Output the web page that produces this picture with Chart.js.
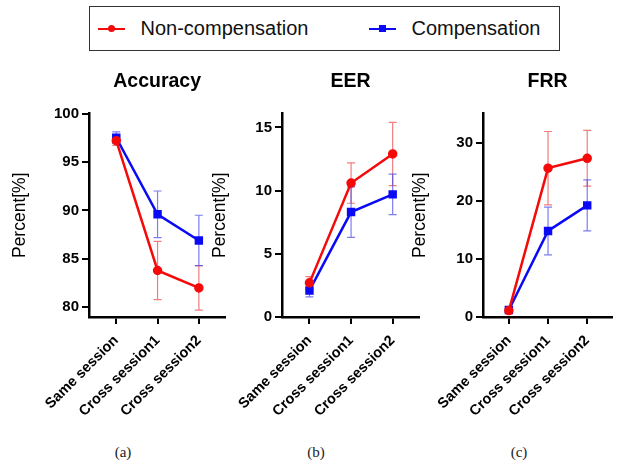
<!DOCTYPE html>
<html>
<head>
<meta charset="utf-8">
<script src="https://cdn.jsdelivr.net/npm/chart.js@4.4.0/dist/chart.umd.min.js"></script>
<style>
  body { margin: 0; width: 619px; height: 466px; background: #fff; position: relative; overflow: hidden; font-family: "Liberation Sans", Arial, sans-serif; }
  canvas { position: absolute; top: 60px; }
  #legend { position: absolute; left: 89px; top: 6px; width: 469px; height: 43px; border: 1.5px solid #333; }
  .item { position: absolute; top: 0; height: 43px; display: flex; align-items: center; font-size: 20px; color: #111; }
  .mark { position: relative; width: 27px; height: 2px; margin-right: 16px; }
  .mark i { position: absolute; left: 10px; top: -2.5px; width: 7px; height: 7px; }
  .sub { position: absolute; top: 444px; width: 40px; text-align: center; font-family: "Liberation Serif", "Times New Roman", serif; font-size: 15px; color: #222; }
</style>
</head>
<body>
<div id="legend"></div>
<canvas id="accChart" width="232" height="380" style="left:0px"></canvas>
<canvas id="eerChart" width="226" height="380" style="left:200px"></canvas>
<canvas id="frrChart" width="219" height="380" style="left:400px"></canvas>
<div class="sub" style="left:103px">(a)</div>
<div class="sub" style="left:296px">(b)</div>
<div class="sub" style="left:499px">(c)</div>
<script>
const categories = ['Same session', 'Cross session1', 'Cross session2'];
const seriesNames = ['Non-compensation', 'Compensation'];

// Accuracy (mean and error)
const accNon = [97.2, 83.8, 82.0];
const accNonErr = [0.5, 3.0, 2.3];
const accComp = [97.5, 89.6, 86.9];
const accCompErr = [0.6, 2.4, 2.6];
const accTicks = [80, 85, 90, 95, 100];

// EER
const eerNon = [2.7, 10.6, 12.9];
const eerNonErr = [0.5, 1.6, 2.5];
const eerComp = [2.1, 8.3, 9.7];
const eerCompErr = [0.5, 2.0, 1.6];
const eerTicks = [0, 5, 10, 15];

// FRR
const frrNon = [1.1, 25.6, 27.3];
const frrNonErr = [0.3, 6.3, 4.8];
const frrComp = [1.2, 14.8, 19.2];
const frrCompErr = [0.3, 4.1, 4.4];
const frrTicks = [0, 10, 20, 30];

const red = 'rgb(245, 10, 10)';
const blue = 'rgb(10, 10, 245)';
const fontFamily = '"Liberation Sans", Arial, sans-serif';

// legend
const legend = document.getElementById('legend');
[[seriesNames[0], red, '50%', 7.5], [seriesNames[1], blue, '0', 278.5]].forEach(([name, color, rad, left]) => {
    const item = document.createElement('div');
    item.className = 'item';
    item.style.left = left + 'px';
    item.innerHTML = '<span class="mark" style="background:' + color + '"><i style="background:' + color +
        ';border-radius:' + rad + '"></i></span>' + name;
    legend.appendChild(item);
});

// error bars drawn under the lines
const errorBars = {
    id: 'errorBars',
    beforeDatasetsDraw(chart) {
        const ctx = chart.ctx;
        const x = chart.scales.x, y = chart.scales.y;
        chart.data.datasets.forEach(ds => {
            ctx.save();
            ctx.strokeStyle = ds.errorColor;
            ctx.lineWidth = 1.2;
            ds.data.forEach((pt, j) => {
                const e = ds.errors[j];
                const px = x.getPixelForValue(pt.x);
                const top = y.getPixelForValue(pt.y + e);
                const bot = y.getPixelForValue(pt.y - e);
                ctx.beginPath();
                ctx.moveTo(px, top); ctx.lineTo(px, bot);
                ctx.moveTo(px - 4, top); ctx.lineTo(px + 4, top);
                ctx.moveTo(px - 4, bot); ctx.lineTo(px + 4, bot);
                ctx.stroke();
            });
            ctx.restore();
        });
    }
};

// panel title centred over the plot area
const panelTitle = {
    id: 'panelTitle',
    afterDraw(chart, args, opts) {
        const { ctx, chartArea } = chart;
        ctx.save();
        ctx.font = 'bold 19.5px ' + fontFamily;
        ctx.fillStyle = '#000';
        ctx.textAlign = 'center';
        ctx.textBaseline = 'middle';
        ctx.fillText(opts.text, (chartArea.left + chartArea.right) / 2, chartArea.top - 32);
        ctx.restore();
    }
};

function toPoints(values) {
    return values.map((v, i) => ({ x: i, y: v }));
}

function makePanel(id, title, non, nonErr, comp, compErr, yMin, yMax, yTicks, yWidth, rightPad) {
    const axisGrid = { drawOnChartArea: false, drawTicks: true, tickLength: 7, color: '#000', lineWidth: 2 };
    const axisBorder = { display: true, color: '#000', width: 2.5 };
    return new Chart(document.getElementById(id), {
        type: 'line',
        data: {
            datasets: [{
                label: seriesNames[0],
                data: toPoints(non),
                errors: nonErr,
                errorColor: 'rgba(235, 70, 70, 0.7)',
                borderColor: red,
                backgroundColor: red,
                borderWidth: 2.5,
                pointStyle: 'circle',
                pointRadius: 3.5,
                tension: 0
            }, {
                label: seriesNames[1],
                data: toPoints(comp),
                errors: compErr,
                errorColor: 'rgba(70, 70, 235, 0.7)',
                borderColor: blue,
                backgroundColor: blue,
                borderWidth: 2.5,
                pointStyle: 'rect',
                pointRadius: 4.2,
                tension: 0
            }]
        },
        options: {
            responsive: false,
            animation: false,
            layout: { padding: { top: 53.5, right: rightPad, left: 0, bottom: 0 } },
            plugins: {
                legend: { display: false },
                tooltip: { enabled: false },
                panelTitle: { text: title }
            },
            scales: {
                x: {
                    type: 'linear',
                    min: -0.66,
                    max: 2.64,
                    afterBuildTicks: s => { s.ticks = categories.map((c, i) => ({ value: i })); },
                    afterFit: s => { s.height = 123; },
                    ticks: {
                        callback: v => categories[v],
                        minRotation: 45,
                        maxRotation: 45,
                        padding: 8,
                        color: '#000',
                        font: { family: fontFamily, size: 14.5, weight: 'bold' }
                    },
                    grid: axisGrid,
                    border: axisBorder
                },
                y: {
                    min: yMin,
                    max: yMax,
                    afterBuildTicks: s => { s.ticks = yTicks.map(v => ({ value: v })); },
                    afterFit: s => { s.width = yWidth; },
                    title: {
                        display: true,
                        text: 'Percent[%]',
                        color: '#000',
                        font: { family: fontFamily, size: 17.5 },
                        padding: { top: 10, bottom: 0 }
                    },
                    ticks: {
                        padding: 3,
                        color: '#000',
                        font: { family: fontFamily, size: 15, weight: 'bold' }
                    },
                    grid: axisGrid,
                    border: axisBorder
                }
            }
        },
        plugins: [errorBars, panelTitle]
    });
}

makePanel('accChart', 'Accuracy', accNon, accNonErr, accComp, accCompErr, 79, 100, accTicks, 89, 6);
makePanel('eerChart', 'EER', eerNon, eerNonErr, eerComp, eerCompErr, 0, 16.1, eerTicks, 82, 5);
makePanel('frrChart', 'FRR', frrNon, frrNonErr, frrComp, frrCompErr, 0, 35, frrTicks, 83, 0);
</script>
</body>
</html>
